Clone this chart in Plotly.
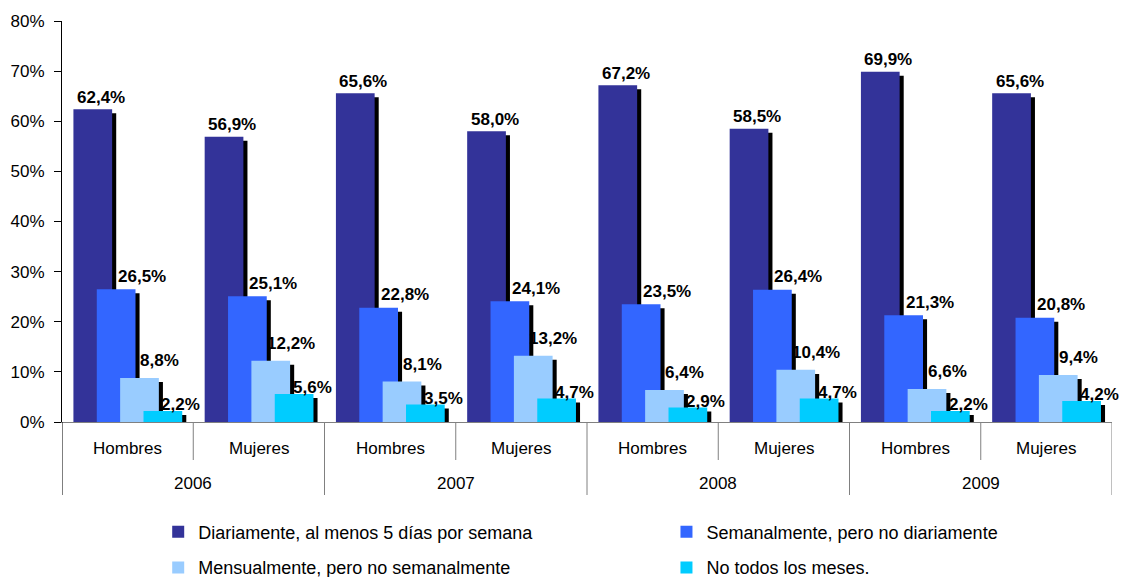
import plotly.graph_objects as go

# Frecuencia de consumo por año y sexo (%)
years = ["2006", "2007", "2008", "2009"]
sexes = ["Hombres", "Mujeres"]
series_names = [
    "Diariamente, al menos 5 días por semana",
    "Semanalmente, pero no diariamente",
    "Mensualmente, pero no semanalmente",
    "No todos los meses.",
]
# one list per series, ordered 2006 H, 2006 M, 2007 H, ... 2009 M
diariamente = [62.4, 56.9, 65.6, 58.0, 67.2, 58.5, 69.9, 65.6]
semanalmente = [26.5, 25.1, 22.8, 24.1, 23.5, 26.4, 21.3, 20.8]
mensualmente = [8.8, 12.2, 8.1, 13.2, 6.4, 10.4, 6.6, 9.4]
no_todos = [2.2, 5.6, 3.5, 4.7, 2.9, 4.7, 2.2, 4.2]
series_values = [diariamente, semanalmente, mensualmente, no_todos]

colors = ["#333399", "#3366FF", "#99CCFF", "#00CCFF"]
FONT = "Liberation Sans, Arial, sans-serif"
AXIS_GREY = "#808080"

# overlapping bar geometry (category units)
BAR_WIDTH = 0.295
BAR_STEP = 0.178
FIRST_OFFSET = -0.413
SHADOW_DX = 0.031      # drop shadow shift to the right
SHADOW_DY = 0.8        # drop shadow shift down (percentage points)
LABEL_XSHIFT = [8, 26, 20, 18]
LABEL_YSHIFT = [12, 13, 17, 6]

# legend placement: two columns, two rows (container fractions)
LEGEND_X = [0.141, 0.594, 0.141, 0.594]
LEGEND_Y = [0.078, 0.078, 0.016, 0.016]
legend_ids = ["legend", "legend2", "legend3", "legend4"]

x_outer = [y for y in years for _ in sexes]
x_inner = [s for _ in years for s in sexes]
x_multi = [x_outer, x_inner]
n_cat = len(x_inner)

fig = go.Figure()
annotations = []
for k, (name, vals, col) in enumerate(zip(series_names, series_values, colors)):
    off = FIRST_OFFSET + k * BAR_STEP
    # black drop shadow drawn just before its bar
    fig.add_trace(go.Bar(
        x=x_multi, y=[v - SHADOW_DY for v in vals],
        width=BAR_WIDTH, offset=off + SHADOW_DX,
        marker=dict(color="black", line=dict(width=0)),
        showlegend=False, hoverinfo="skip",
    ))
    fig.add_trace(go.Bar(
        x=x_multi, y=vals, name=name,
        width=BAR_WIDTH, offset=off,
        marker=dict(color=col, line=dict(width=0)),
        legend=legend_ids[k],
        hoverinfo="skip",
    ))
    for i, v in enumerate(vals):
        annotations.append(dict(
            x=i + off + BAR_WIDTH / 2, y=v, xref="x", yref="y",
            text=f"{v:.1f}%".replace(".", ","),
            showarrow=False, xanchor="center", yanchor="middle",
            xshift=LABEL_XSHIFT[k], yshift=LABEL_YSHIFT[k],
            font=dict(family=FONT, size=17, color="black", weight="bold"),
        ))

# two-level category labels under the axis
for i, s in enumerate(x_inner):
    annotations.append(dict(
        x=i, y=0, xref="x", yref="paper", text=s, showarrow=False,
        xanchor="center", yanchor="middle", yshift=-26,
        font=dict(family=FONT, size=17, color="black"),
    ))
for j, yr in enumerate(years):
    annotations.append(dict(
        x=j * len(sexes) + (len(sexes) - 1) / 2, y=0, xref="x", yref="paper",
        text=yr, showarrow=False, xanchor="center", yanchor="middle", yshift=-61,
        font=dict(family=FONT, size=17, color="black"),
    ))

# divider lines: short between sexes, long between years
shapes = []
for b in range(n_cat + 1):
    is_year = b % len(sexes) == 0
    shapes.append(dict(
        type="line", xref="x", yref="paper",
        x0=b - 0.5, x1=b - 0.5, y0=0, y1=-(73 if is_year else 38) / 401,
        line=dict(color="black" if b == 0 else AXIS_GREY, width=1),
    ))

legends = {}
for lid, lx, ly in zip(legend_ids, LEGEND_X, LEGEND_Y):
    legends[lid] = dict(
        orientation="h", xref="container", yref="container",
        x=lx, xanchor="left", y=ly, yanchor="middle",
        font=dict(family=FONT, size=18, color="black"),
        bgcolor="rgba(0,0,0,0)", borderwidth=0,
    )

fig.update_layout(
    width=1122, height=577,
    margin=dict(l=62, r=10, t=21, b=155),
    barmode="overlay",
    paper_bgcolor="white", plot_bgcolor="white",
    font=dict(family=FONT, size=17, color="black"),
    annotations=annotations,
    shapes=shapes,
    **legends,
)

fig.update_xaxes(
    type="multicategory", range=[-0.5, n_cat - 0.5],
    showline=True, linecolor=AXIS_GREY, linewidth=1,
    showgrid=False, zeroline=False,
    ticks="", showticklabels=False, showdividers=False,
)
fig.update_yaxes(
    range=[0, 80], dtick=10, ticksuffix="%",
    showline=True, linecolor="black", linewidth=1,
    showgrid=False, zeroline=False,
    ticks="outside", ticklen=7, tickcolor="black",
    ticklabelstandoff=6,
    tickfont=dict(family=FONT, size=17, color="black"),
)

fig.write_html("out.html")
